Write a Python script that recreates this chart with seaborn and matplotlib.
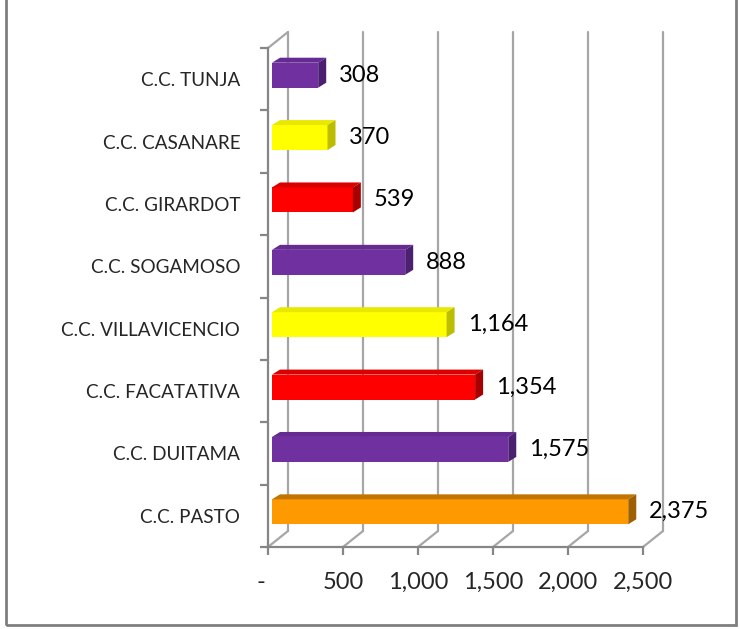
import matplotlib
matplotlib.use("Agg")
import matplotlib.pyplot as plt
import seaborn as sns
import pandas as pd
from matplotlib.patches import Polygon, Rectangle
from matplotlib.transforms import ScaledTranslation

categories = ["C.C. TUNJA", "C.C. CASANARE", "C.C. GIRARDOT", "C.C. SOGAMOSO",
              "C.C. VILLAVICENCIO", "C.C. FACATATIVA", "C.C. DUITAMA", "C.C. PASTO"]
values = [308, 370, 539, 888, 1164, 1354, 1575, 2375]
front_colors = ["#7030A0", "#FFFF00", "#FF0000", "#7030A0",
                "#FFFF00", "#FF0000", "#7030A0", "#FF9900"]
top_colors = ["#652B92", "#E8E800", "#D90000", "#652B92",
              "#E8E800", "#D90000", "#652B92", "#C27400"]
side_colors = ["#4B2070", "#BDBD00", "#A80000", "#4B2070",
               "#BDBD00", "#A80000", "#4B2070", "#A05F00"]
xticks = [0, 500, 1000, 1500, 2000, 2500]
xticklabels = ["-", "500", "1,000", "1,500", "2,000", "2,500"]

W, H, DPI = 740, 629, 100
sns.set_theme(style="white")
plt.rcParams["font.family"] = ["Lato", "DejaVu Sans"]

CAT_FS = 13.6
NUM_FS = 17
GRID = "#A6A6A6"
AXC = "#868686"

fig = plt.figure(figsize=(W / DPI, H / DPI), dpi=DPI)
fig.patch.set_facecolor("white")

# front plane of the 3D box (pixels)
x0p, x1p, ytp, ybp = 268, 643, 48, 547
ax = fig.add_axes([x0p / W, 1 - ybp / H, (x1p - x0p) / W, (ybp - ytp) / H])
ax.set_facecolor("none")

df = pd.DataFrame({"cat": categories, "val": values})
sns.barplot(data=df, x="val", y="cat", hue="cat", palette=front_colors,
            order=categories, hue_order=categories, orient="h", width=0.4,
            saturation=1, legend=False, ax=ax, linewidth=0, zorder=3)

ax.set_xlim(0, 2500)
ax.set_ylim(7.5, -0.5)

pxx = (x1p - x0p) / 2500.0        # pixels per unit
pxy = (ybp - ytp) / 8.0            # pixels per category

def dxu(px):
    return px / pxx

def dyu(px):  # upward pixels -> data offset (inverted axis)
    return -px / pxy

# back wall / floor
wdx, wdy = dxu(20), dyu(16)
for xv in xticks:
    ax.plot([xv + wdx, xv + wdx], [7.5 + wdy, -0.5 + wdy], color=GRID, lw=1.6,
            clip_on=False, zorder=1)
    ax.plot([xv, xv + wdx], [7.5, 7.5 + wdy], color=GRID, lw=1.6,
            clip_on=False, zorder=1)
ax.plot([0, wdx], [-0.5, -0.5 + wdy], color=GRID, lw=1.6, clip_on=False, zorder=1)

# bars: shift and add 3D faces
bdx, bdy = dxu(4), dyu(4)
ddx, ddy = dxu(8), dyu(5)
bars = [p for p in ax.patches if isinstance(p, Rectangle)]
for i, p in enumerate(bars):
    x, y, w, h = p.get_x(), p.get_y(), p.get_width(), p.get_height()
    x += bdx
    y += bdy
    p.set_x(x)
    p.set_y(y)
    p.set_clip_on(False)
    ytop = min(y, y + h)
    ybot = max(y, y + h)
    top = Polygon([(x, ytop), (x + w, ytop), (x + w + ddx, ytop + ddy), (x + ddx, ytop + ddy)],
                  closed=True, facecolor=top_colors[i], edgecolor="none", zorder=3,
                  clip_on=False)
    side = Polygon([(x + w, ytop), (x + w + ddx, ytop + ddy), (x + w + ddx, ybot + ddy), (x + w, ybot)],
                   closed=True, facecolor=side_colors[i], edgecolor="none", zorder=3,
                   clip_on=False)
    ax.add_patch(top)
    ax.add_patch(side)
    ax.text(values[i] + dxu(25), (ytop + ybot) / 2, f"{values[i]:,}",
            ha="left", va="center", fontsize=NUM_FS, color="black", zorder=4)

# axes styling
for s in ["top", "right"]:
    ax.spines[s].set_visible(False)
for s in ["left", "bottom"]:
    ax.spines[s].set_color(AXC)
    ax.spines[s].set_linewidth(1.6)
    ax.spines[s].set_zorder(2)

ax.set_xticks(xticks)
ax.set_xticklabels(xticklabels, fontsize=NUM_FS)
ax.set_yticks([i + 0.5 for i in range(-1, 8)], minor=True)
ax.set_yticks(range(8))
ax.set_yticklabels(categories, fontsize=CAT_FS)
ax.tick_params(axis="y", which="major", length=0, pad=20)
ax.tick_params(axis="y", which="minor", length=6, width=1.6, color=AXC, left=True)
ax.tick_params(axis="x", which="major", length=6, width=1.6, color=AXC, bottom=True, pad=12)
ax.set_xlabel("")
ax.set_ylabel("")
lab0 = ax.get_xticklabels()[0]
lab0.set_transform(lab0.get_transform() + ScaledTranslation(-7 / DPI, 0, fig.dpi_scale_trans))

# outer chart border
fig.add_artist(Rectangle((6 / W, 4 / H), (736 - 6) / W, 1.2, transform=fig.transFigure,
                         fill=False, edgecolor="#7F7F7F", lw=2, clip_on=False))

fig.savefig("out.png", dpi=DPI)
